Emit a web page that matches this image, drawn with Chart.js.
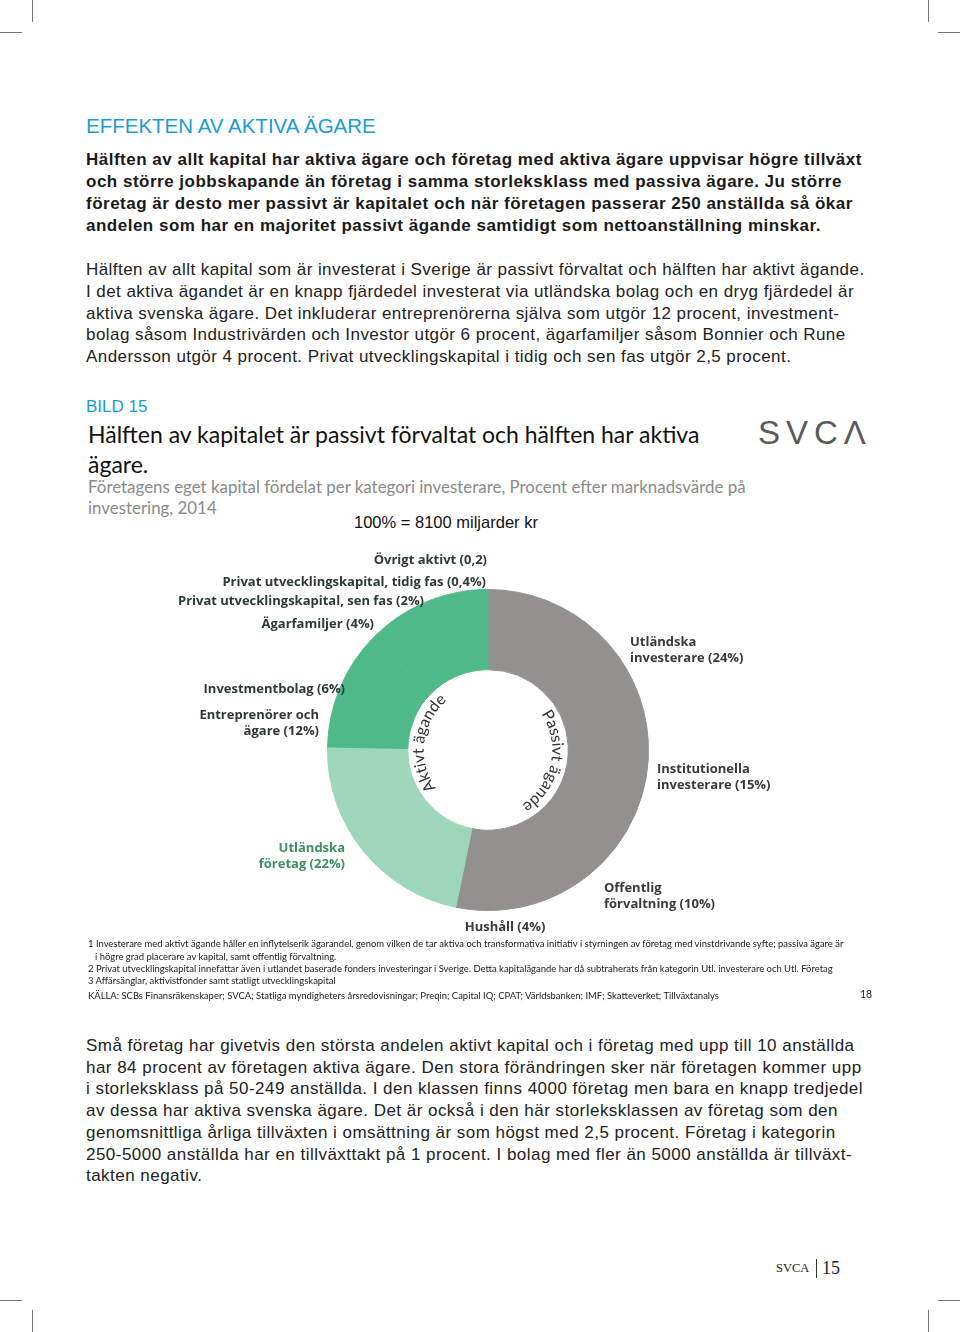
<!DOCTYPE html>
<html lang="sv">
<head>
<meta charset="utf-8">
<title>Effekten av aktiva ägare</title>
<script src="https://cdn.jsdelivr.net/npm/chart.js@4.4.1/dist/chart.umd.min.js"></script>
<style>
  body { margin: 0; width: 960px; height: 1332px; background: #fff; position: relative; overflow: hidden;
         font-family: "Liberation Sans", Arial, sans-serif; color: #1a1a1a; }
  .abs { position: absolute; white-space: nowrap; }
  .cal { font-family: Lato, "Open Sans", sans-serif; }
  .mark { position: absolute; background: #777; }
  .blue { color: #1b9bd7; }
  .note { font-family: Lato, sans-serif; font-size: 9.45px; line-height: 12px; color: #222; }
  #chartBox { position: absolute; left: 160px; top: 540px; width: 640px; height: 400px; }
</style>
</head>
<body>

<!-- crop marks -->
<div class="mark" style="left:32px;top:0;width:1px;height:22px"></div>
<div class="mark" style="left:0;top:32px;width:22px;height:1px"></div>
<div class="mark" style="left:928px;top:0;width:1px;height:22px"></div>
<div class="mark" style="left:938px;top:32px;width:22px;height:1px"></div>
<div class="mark" style="left:32px;top:1310px;width:1px;height:22px"></div>
<div class="mark" style="left:0;top:1300px;width:22px;height:1px"></div>
<div class="mark" style="left:928px;top:1310px;width:1px;height:22px"></div>
<div class="mark" style="left:938px;top:1300px;width:22px;height:1px"></div>

<div class="abs blue" style="left:86px;top:114px;font-size:20.5px;line-height:24px">EFFEKTEN AV AKTIVA ÄGARE</div>

<div class="abs" style="left:86px;top:149px;font-size:17px;line-height:22px;font-weight:bold;letter-spacing:0.5px;color:#1a1a1a">
Hälften av allt kapital har aktiva ägare och företag med aktiva ägare uppvisar högre tillväxt<br>
och större jobbskapande än företag i samma storleksklass med passiva ägare. Ju större<br>
företag är desto mer passivt är kapitalet och när företagen passerar 250 anställda så ökar<br>
andelen som har en majoritet passivt ägande samtidigt som nettoanställning minskar.
</div>

<div class="abs" style="left:86px;top:259px;font-size:17px;line-height:21.8px;letter-spacing:0.44px;color:#222">
Hälften av allt kapital som är investerat i Sverige är passivt förvaltat och hälften har aktivt ägande.<br>
I det aktiva ägandet är en knapp fjärdedel investerat via utländska bolag och en dryg fjärdedel är<br>
aktiva svenska ägare. Det inkluderar entreprenörerna själva som utgör 12 procent, investment-<br>
bolag såsom Industrivärden och Investor utgör 6 procent, ägarfamiljer såsom Bonnier och Rune<br>
Andersson utgör 4 procent. Privat utvecklingskapital i tidig och sen fas utgör 2,5 procent.
</div>

<div class="abs blue" style="left:86px;top:397px;font-size:17px;line-height:20px">BILD 15</div>

<div class="abs cal" style="left:88px;top:419px;font-size:23px;line-height:30px;color:#111">
Hälften av kapitalet är passivt förvaltat och hälften har aktiva<br>ägare.
</div>
<div class="abs cal" style="left:88px;top:476px;font-size:16.9px;line-height:21px;color:#8a8a8a">
Företagens eget kapital fördelat per kategori investerare, Procent efter marknadsvärde på<br>investering, 2014
</div>
<div class="abs" style="left:354px;top:512px;font-size:16.5px;line-height:20px;color:#111">100% = 8100 miljarder kr</div>

<div class="abs" style="left:758px;top:413px;font-size:33px;line-height:40px;color:#5a5a5a;letter-spacing:6px">SVCΛ</div>

<div id="chartBox"><canvas id="ownerChart" width="640" height="400"></canvas></div>

<div class="abs note" style="left:88px;top:938px">1 Investerare med aktivt ägande håller en inflytelserik ägarandel, genom vilken de tar aktiva och transformativa initiativ i styrningen av företag med vinstdrivande syfte; passiva ägare är</div>
<div class="abs note" style="left:95px;top:951px">i högre grad placerare av kapital, samt offentlig förvaltning.</div>
<div class="abs note" style="left:88px;top:963px">2 Privat utvecklingskapital innefattar även i utlandet baserade fonders investeringar i Sverige. Detta kapitalägande har då subtraherats från kategorin Utl. investerare och Utl. Företag</div>
<div class="abs note" style="left:88px;top:975px">3 Affärsänglar, aktivistfonder samt statligt utvecklingskapital</div>
<div class="abs note" style="left:88px;top:990px">KÄLLA: SCBs Finansräkenskaper; SVCA; Statliga myndigheters årsredovisningar; Preqin; Capital IQ; CPAT; Världsbanken; IMF; Skatteverket; Tillväxtanalys</div>
<div class="abs note" style="left:860px;top:988px;font-size:10.5px">18</div>

<div class="abs" style="left:86px;top:1035px;font-size:17px;line-height:21.7px;letter-spacing:0.47px;color:#222">
Små företag har givetvis den största andelen aktivt kapital och i företag med upp till 10 anställda<br>
har 84 procent av företagen aktiva ägare. Den stora förändringen sker när företagen kommer upp<br>
i storleksklass på 50-249 anställda. I den klassen finns 4000 företag men bara en knapp tredjedel<br>
av dessa har aktiva svenska ägare. Det är också i den här storleksklassen av företag som den<br>
genomsnittliga årliga tillväxten i omsättning är som högst med 2,5 procent. Företag i kategorin<br>
250-5000 anställda har en tillväxttakt på 1 procent. I bolag med fler än 5000 anställda är tillväxt-<br>
takten negativ.
</div>

<div class="abs" style="left:776px;top:1260px;font-family:'Liberation Serif',serif;font-size:12.5px;line-height:16px;color:#222">SVCA</div>
<div class="mark" style="left:816px;top:1259px;width:1px;height:19px;background:#333"></div>
<div class="abs" style="left:822px;top:1257px;font-family:'Liberation Serif',serif;font-size:18px;line-height:22px;color:#222">15</div>

<script>
// Data: passive owners first (clockwise from top), then active owners
const categories = [
    'Utländska investerare', 'Institutionella investerare', 'Offentlig förvaltning', 'Hushåll',
    'Utländska företag', 'Entreprenörer och ägare', 'Investmentbolag', 'Ägarfamiljer',
    'Privat utvecklingskapital, sen fas', 'Privat utvecklingskapital, tidig fas', 'Övrigt aktivt'
];
const passiveValues = [24, 15, 10, 4];
const activeValues = [22, 12, 6, 4, 2, 0.4, 0.2];
const labelLines = [
    ['Utländska', 'investerare (24%)'],
    ['Institutionella', 'investerare (15%)'],
    ['Offentlig', 'förvaltning (10%)'],
    ['Hushåll (4%)'],
    ['Utländska', 'företag (22%)'],
    ['Entreprenörer och', 'ägare (12%)'],
    ['Investmentbolag (6%)'],
    ['Ägarfamiljer (4%)'],
    ['Privat utvecklingskapital, sen fas (2%)'],
    ['Privat utvecklingskapital, tidig fas (0,4%)'],
    ['Övrigt aktivt (0,2)']
];

// Colours
const grey = '#929190';
const green = '#4fb98a';
const lightGreen = '#9dd6bb';
const segColors = passiveValues.map(() => grey)
    .concat([lightGreen])
    .concat(activeValues.slice(1).map(() => green));

// Label anchors relative to doughnut centre: dx, dy of first line, alignment
const labelPos = [
    [142, -108, 'left'],
    [169, 19, 'left'],
    [116, 138, 'left'],
    [17, 177, 'center'],
    [-143, 98, 'right'],
    [-169, -35, 'right'],
    [-143, -61, 'right'],
    [-114, -126, 'right'],
    [-64, -149, 'right'],
    [-2, -168, 'right'],
    [-1, -190, 'right']
];

function arcText(ctx, text, cx, cy, r, midDeg) {
    // writes text along a circle, clockwise, letters pointing outward
    let total = 0;
    for (const ch of text) total += ctx.measureText(ch).width;
    let a = midDeg * Math.PI / 180 - total / r / 2;
    for (const ch of text) {
        const w = ctx.measureText(ch).width;
        const t = a + w / 2 / r;
        ctx.save();
        ctx.translate(cx + r * Math.sin(t), cy - r * Math.cos(t));
        ctx.rotate(t);
        ctx.fillText(ch, 0, 0);
        ctx.restore();
        a += w / r;
    }
}

const labelPlugin = {
    id: 'labelPlugin',
    afterDatasetsDraw(chart) {
        const ctx = chart.ctx;
        const arc = chart.getDatasetMeta(0).data[0];
        const cx = arc.x, cy = arc.y;
        ctx.save();
        ctx.font = 'bold 13px "Open Sans", sans-serif';
        ctx.textBaseline = 'middle';
        labelLines.forEach((lines, i) => {
            const [dx, dy, align] = labelPos[i];
            ctx.textAlign = align;
            ctx.fillStyle = i === 4 ? '#3d8f63' : (i < 4 ? '#3a3a3a' : '#2e3a33');
            lines.forEach((line, j) => ctx.fillText(line, cx + dx, cy + dy + j * 16));
        });
        // curved captions inside the hole
        ctx.font = '16px Lato, "Open Sans", sans-serif';
        ctx.fillStyle = '#333';
        ctx.textAlign = 'center';
        ctx.textBaseline = 'alphabetic';
        const r = arc.innerRadius - 16;
        arcText(ctx, 'Aktivt ägande', cx, cy, r, 277);
        arcText(ctx, 'Passivt ägande', cx, cy, r, 102);
        ctx.restore();
    }
};

const ctx = document.getElementById('ownerChart').getContext('2d');
const ownerChart = new Chart(ctx, {
    type: 'doughnut',
    data: {
        labels: categories,
        datasets: [{
            data: passiveValues.concat(activeValues),
            backgroundColor: segColors,
            borderColor: segColors,
            borderWidth: 1
        }]
    },
    options: {
        responsive: false,
        animation: false,
        cutout: '50%',
        layout: { padding: { left: 167, right: 151, top: 49, bottom: 29 } },
        plugins: {
            legend: { display: false },
            tooltip: { enabled: false }
        }
    },
    plugins: [labelPlugin]
});
</script>
</body>
</html>
